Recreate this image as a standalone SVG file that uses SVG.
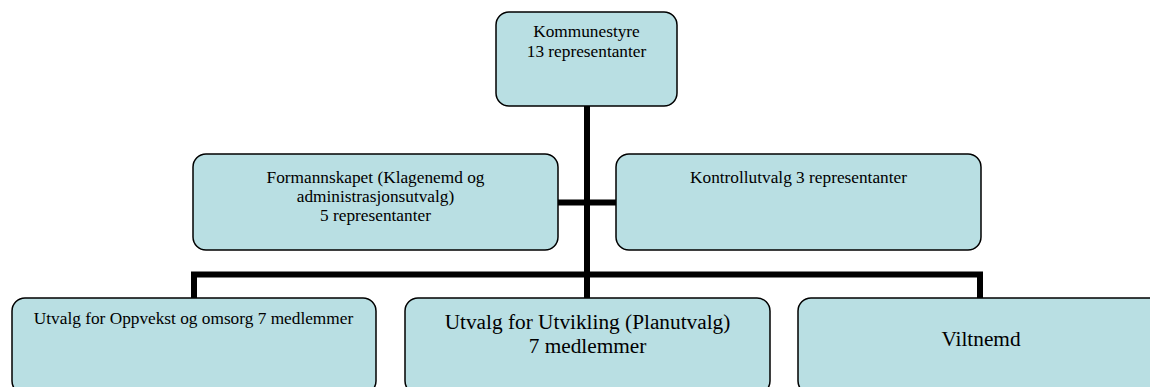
<svg xmlns="http://www.w3.org/2000/svg" width="1150" height="387" viewBox="0 0 1150 387">
<style>
.box{fill:#b9dfe3;stroke:#000;stroke-width:1.5}
.t{font-family:"Liberation Serif","Times New Roman",serif;font-size:17.3px;fill:#000;text-anchor:middle}
.tl{font-family:"Liberation Serif","Times New Roman",serif;font-size:21.3px;fill:#000;text-anchor:middle}
.c{fill:none;stroke:#000;stroke-width:6;stroke-linecap:butt;stroke-linejoin:miter}
</style>
<rect width="1150" height="387" fill="#fff"/>
<g id="connectors">
<line class="c" x1="587" y1="106" x2="587" y2="275"/>
<line class="c" x1="558" y1="202.5" x2="616" y2="202.5"/>
<polyline class="c" points="194,298 194,274.5 980,274.5 980,298"/>
<line class="c" x1="587" y1="274" x2="587" y2="298"/>
</g>
<g id="kommunestyre">
<rect class="box" x="496" y="12" width="181" height="94" rx="13"/>
<text class="t" x="586.5" y="37">Kommunestyre</text>
<text class="t" x="586.5" y="57">13 representanter</text>
</g>
<g id="formannskapet">
<rect class="box" x="193" y="154" width="365" height="96" rx="13"/>
<text class="t" x="375.5" y="183">Formannskapet (Klagenemd og</text>
<text class="t" x="375.5" y="202">administrasjonsutvalg)</text>
<text class="t" x="375.5" y="221">5 representanter</text>
</g>
<g id="kontrollutvalg">
<rect class="box" x="616" y="154" width="365" height="96" rx="13"/>
<text class="t" x="798.5" y="183">Kontrollutvalg 3 representanter</text>
</g>
<g id="oppvekst">
<rect class="box" x="12" y="298" width="364" height="96" rx="13"/>
<text class="t" x="193.5" y="324">Utvalg for Oppvekst og omsorg 7 medlemmer</text>
</g>
<g id="utvikling">
<rect class="box" x="405" y="298" width="365" height="96" rx="13"/>
<text class="tl" x="587.5" y="329">Utvalg for Utvikling (Planutvalg)</text>
<text class="tl" x="587.5" y="353">7 medlemmer</text>
</g>
<g id="viltnemd">
<rect class="box" x="798" y="298" width="365" height="96" rx="13"/>
<text class="tl" x="981" y="346">Viltnemd</text>
</g>
</svg>
